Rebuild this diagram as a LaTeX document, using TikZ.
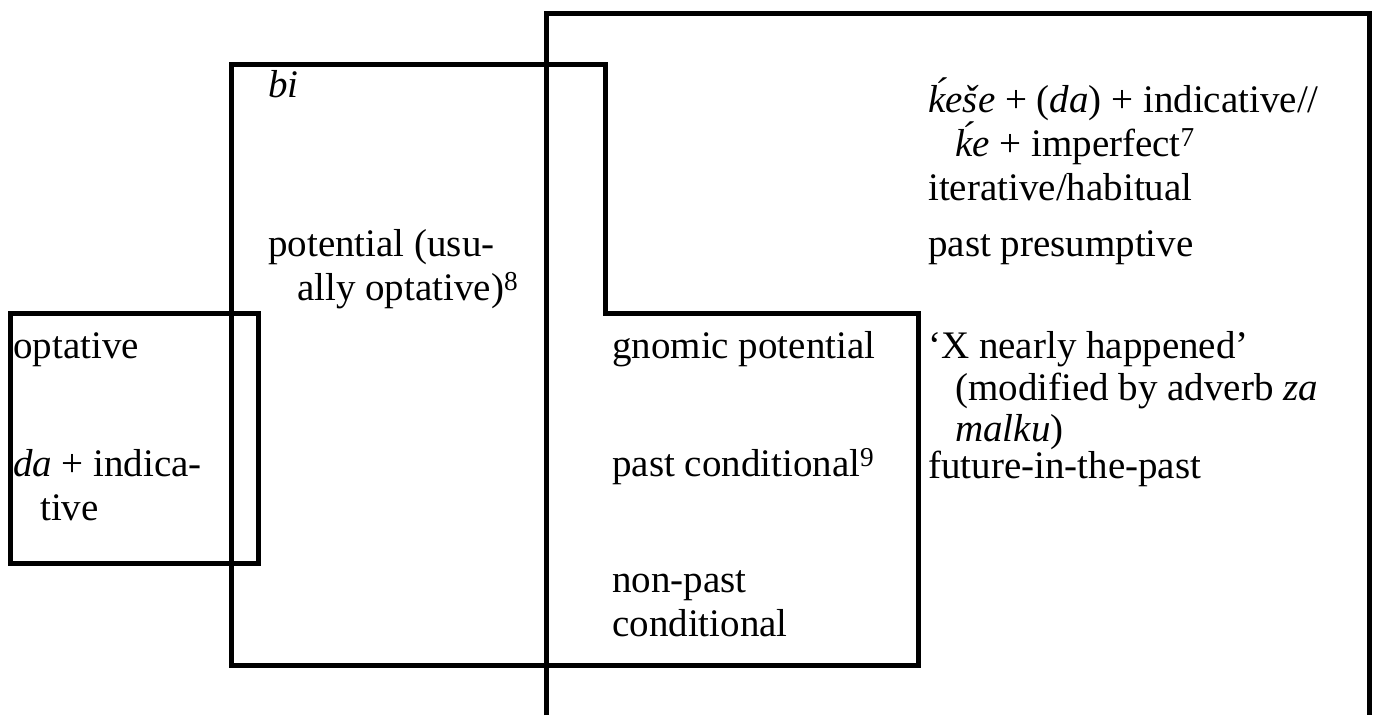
\documentclass[tikz,border=0pt]{standalone}
\usepackage{fontspec}
\setmainfont{Liberation Serif}
\begin{document}
\begin{tikzpicture}[x=1pt,y=-1pt,
  lbl/.style={inner sep=0pt,anchor=base west,font=\fontsize{39}{44}\selectfont},
  frame/.style={line width=5pt,line join=miter}]
\useasboundingbox (0,0) rectangle (1378,715);
% frames
\draw[frame] (546,715) -- (546,13) -- (1369,13) -- (1369,715);
\draw[frame] (231,64) -- (605,64) -- (605,313) -- (918,313) -- (918,665) -- (231,665) -- cycle;
\draw[frame] (10,313) rectangle (258,563);
% texts
\node[lbl] (bi) at (268,97) {\textit{bi}};
\node[lbl] (pot1) at (268,256) {potential (usu-};
\node[lbl] (pot2) at (297,300) {ally optative)\textsuperscript{8}};
\node[lbl] (kese) at (928,112) {\textit{ḱeše} + (\textit{da}) + indicative//};
\node[lbl] (ke) at (955,156) {\textit{ḱe} + imperfect\textsuperscript{7}};
\node[lbl] (iter) at (928,200) {iterative/habitual};
\node[lbl] (pres) at (928,256) {past presumptive};
\node[lbl] (opt) at (13,358) {optative};
\node[lbl] (da1) at (13,476) {\textit{da} + indica-};
\node[lbl] (da2) at (40,520) {tive};
\node[lbl] (gnom) at (612,358) {gnomic potential};
\node[lbl] (pcond) at (612,476) {past conditional\textsuperscript{9}};
\node[lbl] (np1) at (612,592) {non-past};
\node[lbl] (np2) at (612,636) {conditional};
\node[lbl] (x1) at (928,358) {‘X nearly happened’};
\node[lbl] (x2) at (955,400) {(modified by adverb \textit{za}};
\node[lbl] (x3) at (955,441) {\textit{malku})};
\node[lbl] (fut) at (928,478) {future-in-the-past};
\end{tikzpicture}
\end{document}
